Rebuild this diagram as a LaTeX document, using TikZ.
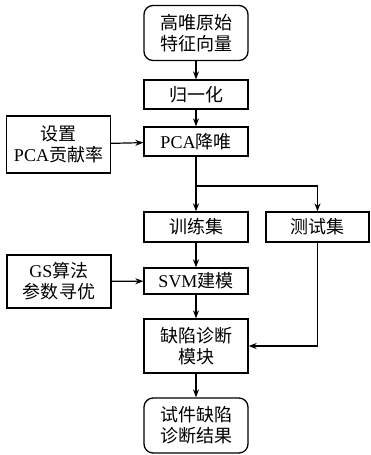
\documentclass[tikz,border=0pt]{standalone}
\usepackage{fontspec}
\setmainfont{Liberation Serif}
\newfontfamily\cjk{Noto Sans CJK SC}
\usetikzlibrary{arrows.meta}
\begin{document}
\begin{tikzpicture}[x=1pt,y=-1pt,
  box/.style={draw,line width=1.3pt,align=center,font=\fontsize{18}{21}\selectfont,inner sep=0pt},
  rbox/.style={box,rounded corners=9pt},
  arr/.style={line width=1.2pt,-{Stealth[length=8pt,width=6pt]}},
  ln/.style={line width=1.2pt}]
\useasboundingbox (0,0) rectangle (370,455);
\node[rbox,minimum width=104pt,minimum height=55pt] (raw) at (196,33) {\cjk 高唯原始\\\cjk 特征向量};
\node[box,minimum width=104pt,minimum height=29pt] (norm) at (196,94.5) {\cjk 归一化};
\node[box,minimum width=104pt,minimum height=29pt] (pca) at (196,141.5) {PCA\cjk 降唯};
\node[box,minimum width=104pt,minimum height=57pt] (set) at (58.5,144.5) {\cjk 设置\\PCA\cjk 贡献率};
\node[box,minimum width=104pt,minimum height=30pt] (train) at (196,227) {\cjk 训练集};
\node[box,minimum width=103pt,minimum height=30pt] (test) at (317.5,227) {\cjk 测试集};
\node[box,minimum width=104pt,minimum height=53pt] (gs) at (59,281.5) {GS\cjk 算法\\\cjk 参数寻优};
\node[box,minimum width=104pt,minimum height=26pt] (svm) at (196,281) {SVM\cjk 建模};
\node[box,minimum width=104pt,minimum height=54pt] (diag) at (196,346) {\cjk 缺陷诊断\\\cjk 模块};
\node[rbox,minimum width=104pt,minimum height=55pt] (res) at (196,425.5) {\cjk 试件缺陷\\\cjk 诊断结果};
\coordinate (split) at (pca.south |- 0,186);
\draw[arr] (raw) -- (norm);
\draw[arr] (norm) -- (pca);
\draw[arr] (set) -- (pca);
\draw[ln] (pca.south) -- (split);
\draw[arr] (split) -- (train);
\draw[arr] (split) -| (test);
\draw[arr] (train) -- (svm);
\draw[arr] (gs) -- (svm);
\draw[arr] (svm) -- (diag);
\draw[arr] (test.south) |- (diag.east);
\draw[arr] (diag) -- (res);
\end{tikzpicture}
\end{document}
